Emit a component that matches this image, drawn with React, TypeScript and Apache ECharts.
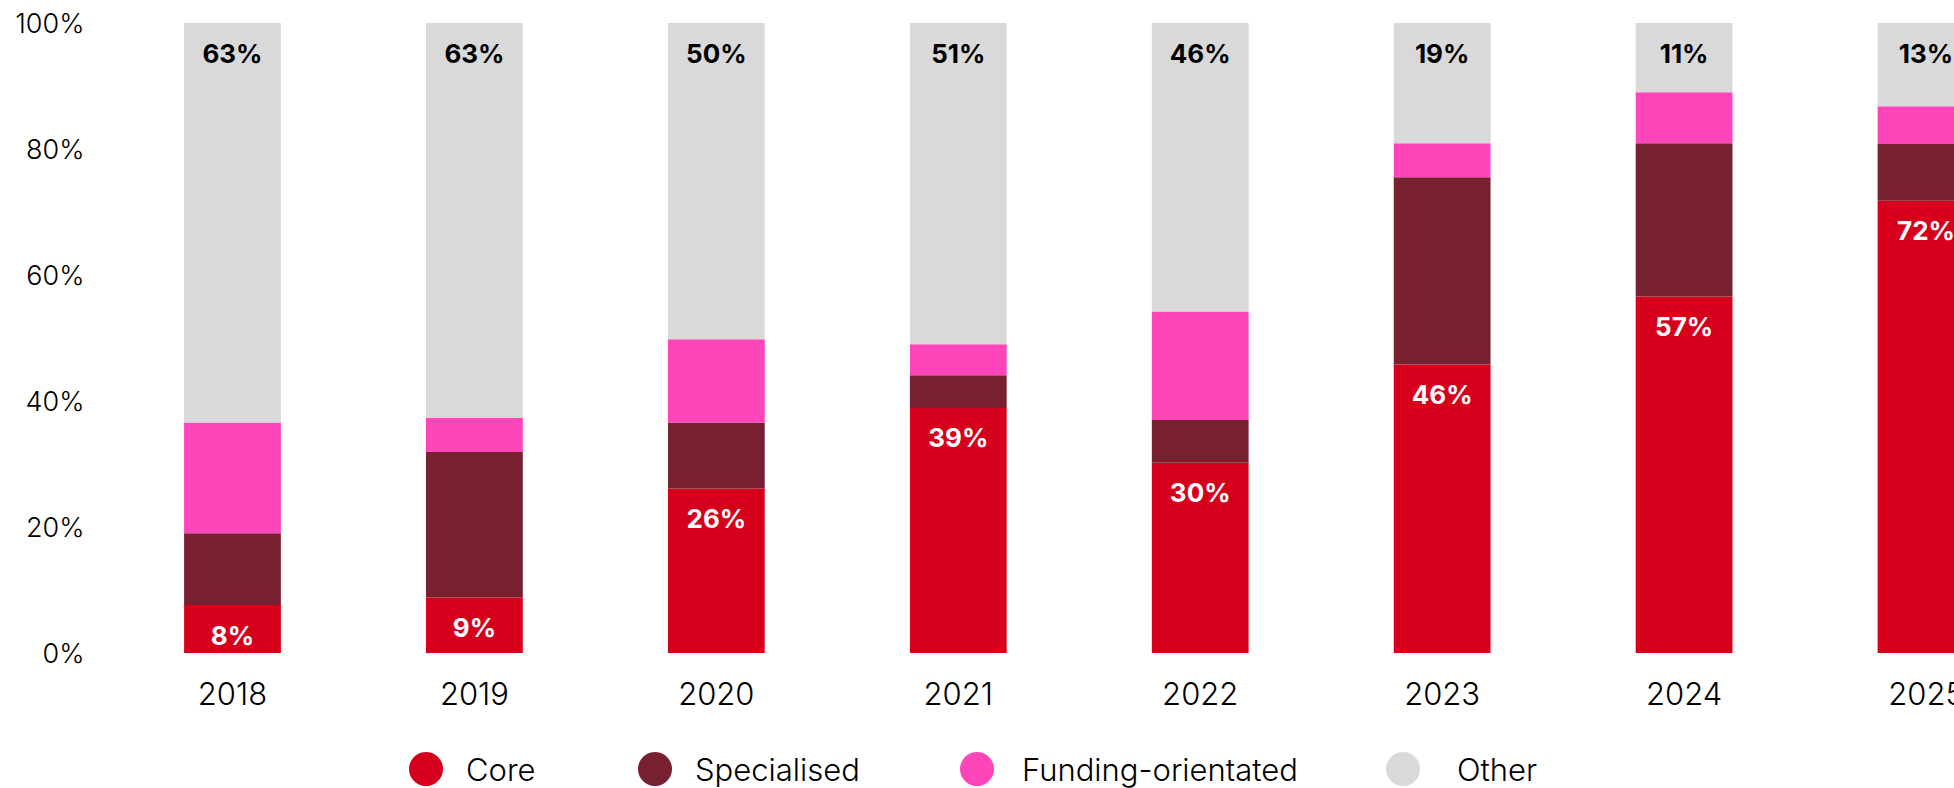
import React, { useEffect, useRef } from "react";
import * as echarts from "echarts";

const years = ["2018", "2019", "2020", "2021", "2022", "2023", "2024", "2025"];
const core = [7.6, 8.8, 26.1, 38.9, 30.2, 45.8, 56.6, 71.8];
const specialised = [11.4, 23.1, 10.5, 5.2, 6.8, 29.7, 24.3, 9.0];
const funding = [17.6, 5.4, 13.2, 4.9, 17.2, 5.4, 8.1, 6.0];
const other = [63.4, 62.7, 50.2, 51.0, 45.8, 19.1, 11.0, 13.2];
const yTicks = [0, 20, 40, 60, 80, 100];

const seriesNames = ["Core", "Specialised", "Funding-orientated", "Other"];
const colors = ["#D6001C", "#772130", "#FF45BA", "#D9D9D9"];
const legendLeft = [409, 638, 960, 1386];
const legendTextGap = [18, 18, 23, 32];

const FONT = "Inter, 'Noto Sans', sans-serif";

export default function App() {
  const ref = useRef<HTMLDivElement>(null);
  useEffect(() => {
    if (!ref.current) return;
    const chart = echarts.init(ref.current, undefined, { renderer: "svg" });
    const dataSets = [core, specialised, funding, other];
    const labelFmt = (p: any) => Math.round(p.value) + "%";
    const series = seriesNames.map((name, i) => ({
      name,
      type: "bar",
      stack: "total",
      barWidth: "40%",
      data: dataSets[i],
      itemStyle: { color: colors[i] },
      label:
        i === 0 || i === 3
          ? {
              show: true,
              position: "insideTop",
              distance: 17,
              formatter: labelFmt,
              color: i === 0 ? "#ffffff" : "#000000",
              fontFamily: FONT,
              fontWeight: "bold",
              fontSize: 26,
            }
          : { show: false },
      emphasis: { disabled: true },
    }));
    const legends = seriesNames.map((name, i) => ({
      data: [name],
      left: legendLeft[i],
      top: 752,
      padding: 0,
      icon: "circle",
      itemWidth: 34,
      itemHeight: 34,
      selectedMode: false,
      textStyle: {
        fontFamily: FONT,
        fontSize: 31,
        fontWeight: 300,
        color: "#000",
        padding: [0, 0, 0, legendTextGap[i]],
      },
    }));
    chart.setOption({
      animation: false,
      grid: { left: 111.5, right: 0, top: 23, bottom: 135, containLabel: false },
      legend: legends,
      xAxis: {
        type: "category",
        data: years,
        axisLine: { show: false },
        axisTick: { show: false },
        axisLabel: {
          margin: 25,
          fontFamily: FONT,
          fontSize: 31,
          fontWeight: 300,
          color: "#000",
        },
      },
      yAxis: {
        type: "value",
        min: yTicks[0],
        max: yTicks[yTicks.length - 1],
        interval: 20,
        splitLine: { show: false },
        axisLine: { show: false },
        axisTick: { show: false },
        axisLabel: {
          margin: 27,
          formatter: "{value}%",
          fontFamily: FONT,
          fontSize: 27,
          fontWeight: 300,
          color: "#000",
        },
      },
      series,
    });
    return () => chart.dispose();
  }, []);
  return (
    <div
      style={{
        position: "absolute",
        left: 0,
        top: 0,
        width: 1954,
        height: 788,
        overflow: "hidden",
      }}
    >
      <div ref={ref} style={{ width: 2047, height: 788 }} />
    </div>
  );
}
